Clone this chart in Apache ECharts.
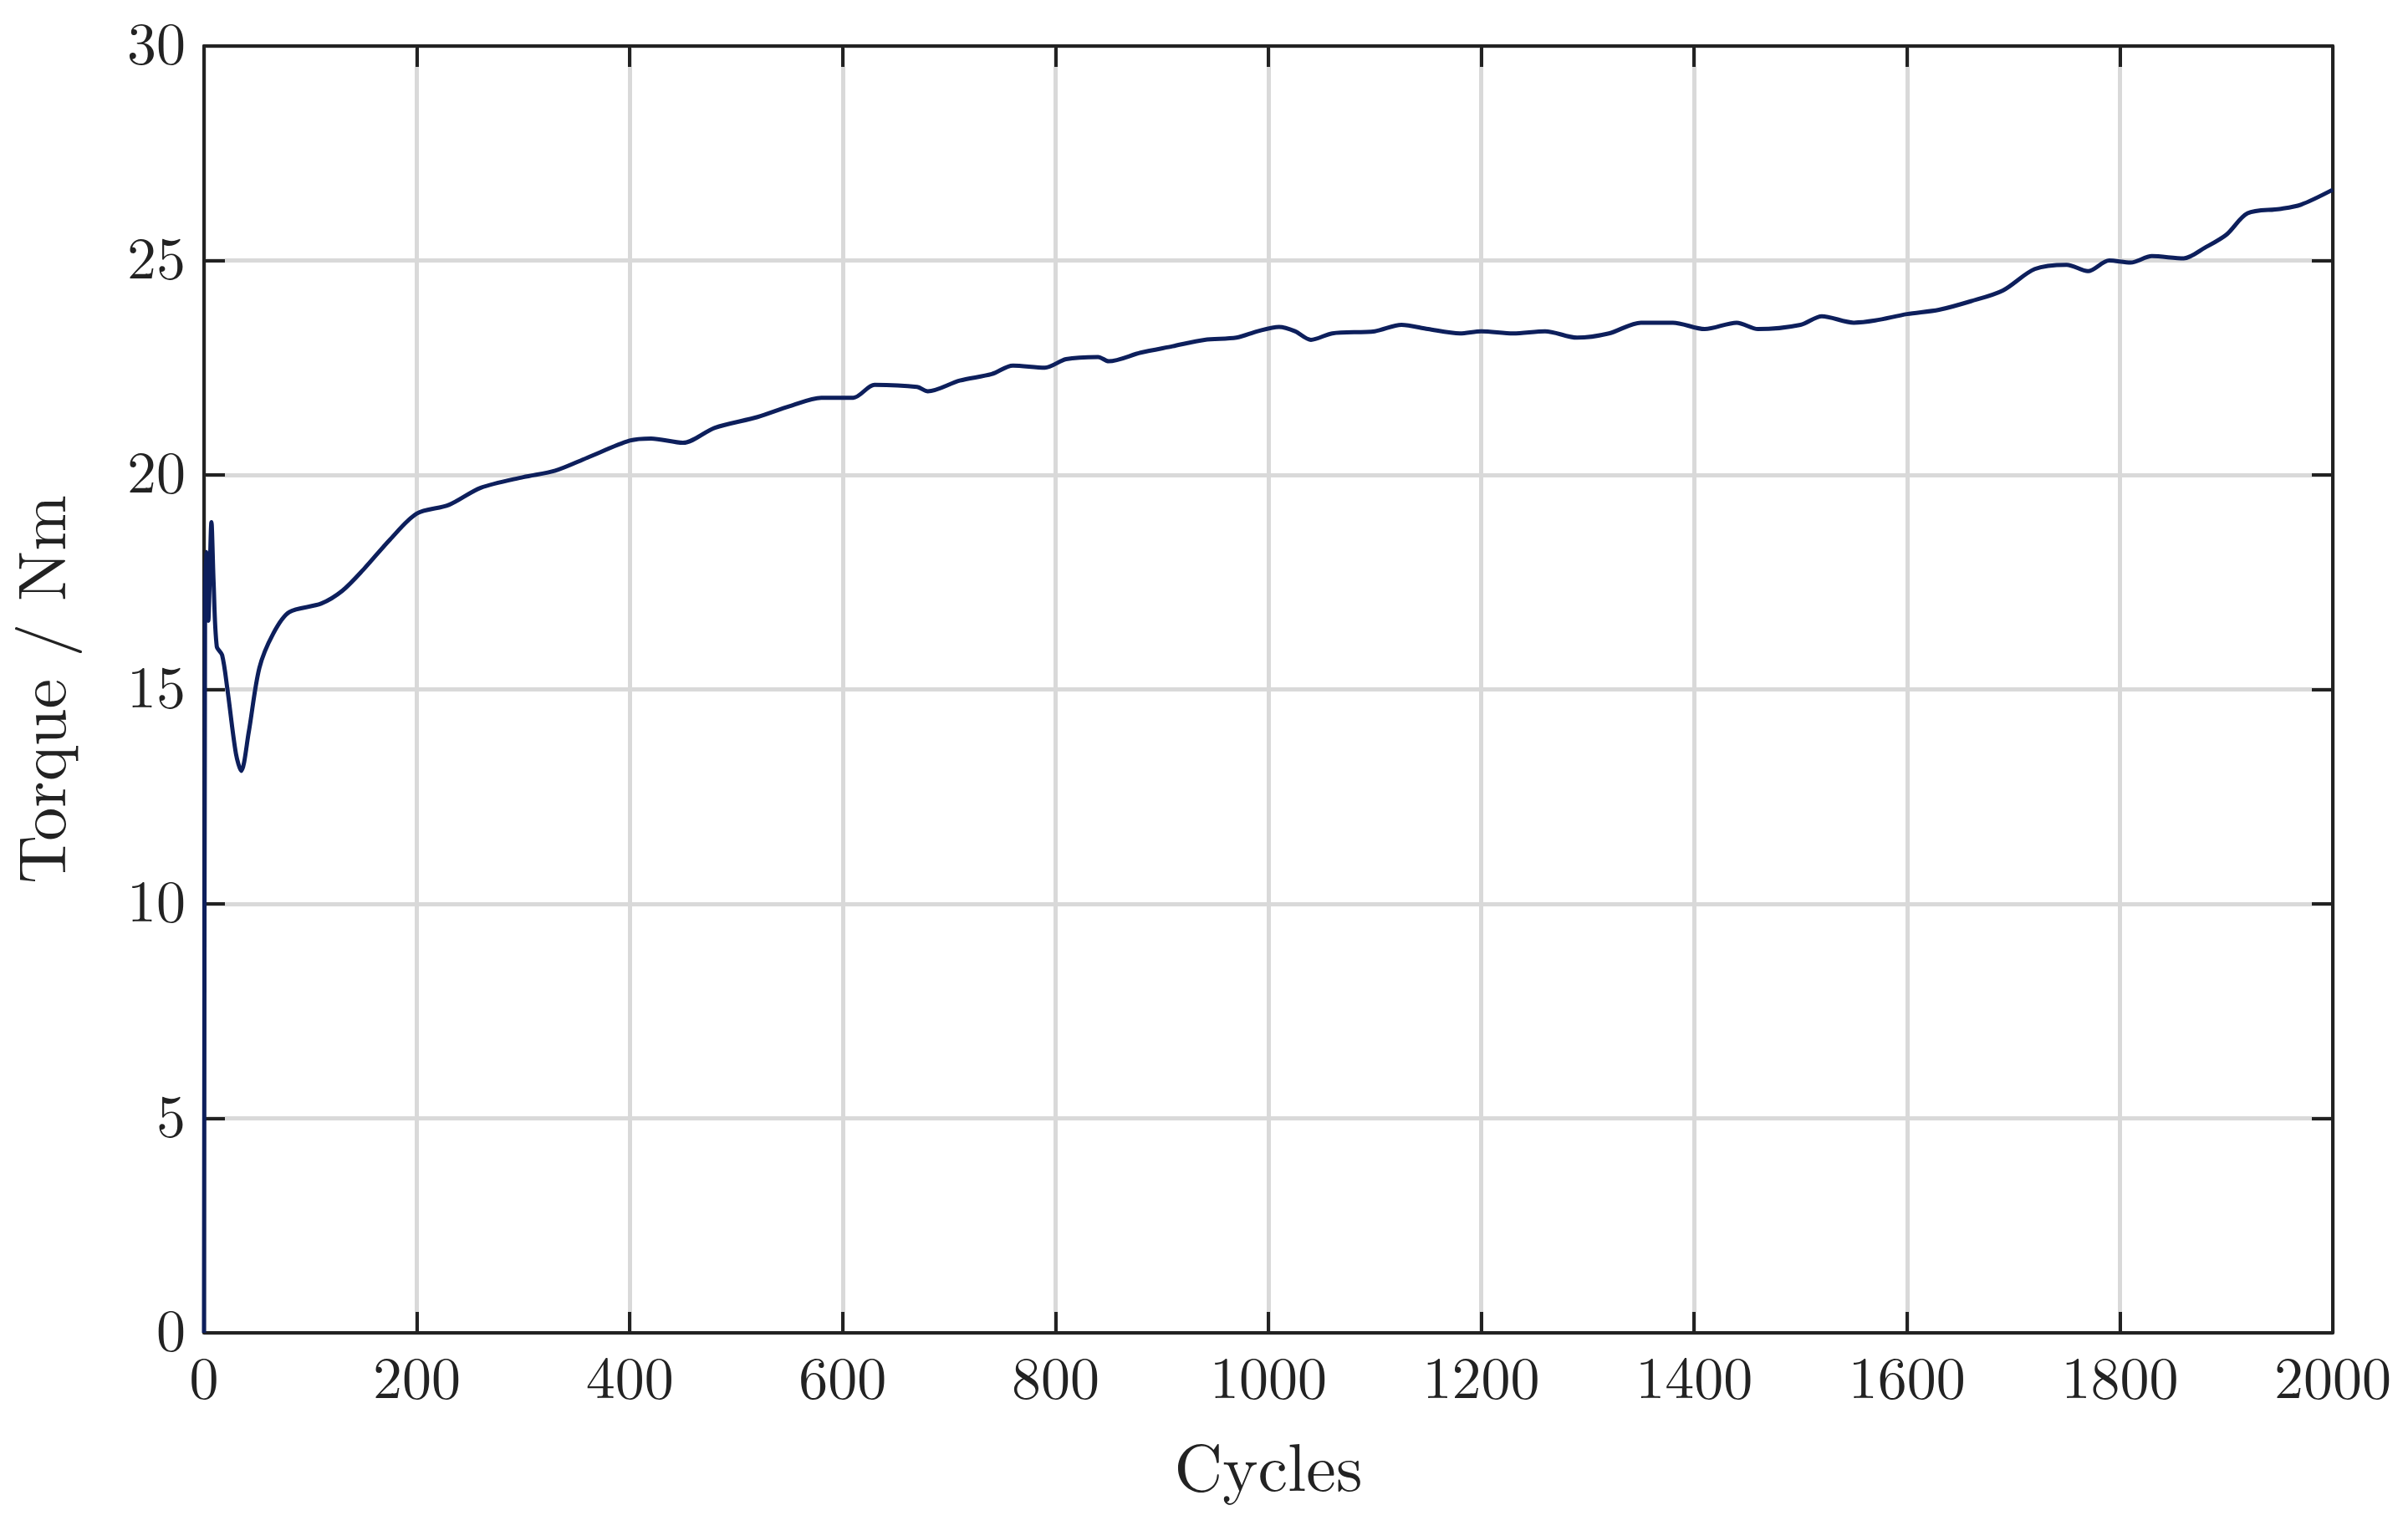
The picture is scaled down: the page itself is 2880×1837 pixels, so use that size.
<!DOCTYPE html>
<html>
<head>
<meta charset="utf-8">
<script src="https://cdn.jsdelivr.net/npm/echarts@6/dist/echarts.min.js"></script>
<style>html,body{margin:0;padding:0;background:#fff}#c{width:2880px;height:1837px}</style>
</head>
<body>
<div id="c"></div>
<script>
// cycles and torque
const cycles = [0, 1, 2, 4, 7, 9, 12, 17, 22, 30, 35, 42, 52, 65, 80, 110, 130, 150, 175, 200, 230, 260, 300, 330, 360, 400, 420, 450, 480, 520, 550, 580, 610, 630, 670, 680, 710, 740, 760, 790, 810, 840, 850, 880, 910, 940, 970, 990, 1010, 1025, 1040, 1060, 1100, 1125, 1150, 1180, 1200, 1230, 1260, 1290, 1320, 1350, 1380, 1410, 1440, 1460, 1500, 1520, 1550, 1570, 1600, 1630, 1660, 1690, 1720, 1750, 1770, 1790, 1810, 1830, 1860, 1880, 1900, 1920, 1950, 1970, 2000];
const torque = [0, 17.0, 18.2, 16.6, 18.9, 17.5, 16.0, 15.8, 15.0, 13.5, 13.1, 14.0, 15.5, 16.3, 16.8, 17.0, 17.3, 17.8, 18.5, 19.1, 19.3, 19.7, 19.95, 20.1, 20.4, 20.8, 20.85, 20.75, 21.1, 21.35, 21.6, 21.8, 21.8, 22.1, 22.05, 21.95, 22.2, 22.35, 22.55, 22.5, 22.7, 22.75, 22.65, 22.85, 23.0, 23.15, 23.2, 23.35, 23.45, 23.35, 23.15, 23.3, 23.35, 23.5, 23.4, 23.3, 23.35, 23.3, 23.35, 23.2, 23.3, 23.55, 23.55, 23.4, 23.55, 23.4, 23.5, 23.7, 23.55, 23.6, 23.75, 23.85, 24.05, 24.3, 24.8, 24.9, 24.75, 25.0, 24.95, 25.1, 25.05, 25.3, 25.6, 26.1, 26.2, 26.3, 26.65];

const font = 'Latin Modern Roman, "DejaVu Serif", serif';
const ink = '#222';
const tick = { show: true, inside: true, length: 25, lineStyle: { color: ink, width: 4 } };
const line = { show: true, onZero: false, lineStyle: { color: ink, width: 4 } };
const label = { fontFamily: font, fontSize: 70, color: ink, margin: 22, formatter: v => String(v) };
const grid = { show: true, lineStyle: { color: '#d9d9d9', width: 5 } };

const chart = echarts.init(document.getElementById('c'));
chart.setOption({
  animation: false,
  grid: { left: 244, right: 90, top: 55, bottom: 243 },
  xAxis: [{
    type: 'value', min: 0, max: 2000, interval: 200, position: 'bottom',
    name: 'Cycles', nameLocation: 'middle', nameGap: 125,
    nameTextStyle: { fontFamily: font, fontSize: 80, color: ink },
    axisLine: line, axisTick: tick, axisLabel: label, splitLine: grid
  }, {
    type: 'value', min: 0, max: 2000, interval: 200, position: 'top',
    axisLine: line, axisTick: tick, axisLabel: { show: false }, splitLine: { show: false }
  }],
  yAxis: [{
    type: 'value', min: 0, max: 30, interval: 5, position: 'left',
    name: 'Torque / Nm', nameLocation: 'middle', nameGap: 150,
    nameTextStyle: { fontFamily: font, fontSize: 80, color: ink },
    axisLine: line, axisTick: tick, axisLabel: label, splitLine: grid
  }, {
    type: 'value', min: 0, max: 30, interval: 5, position: 'right',
    axisLine: line, axisTick: tick, axisLabel: { show: false }, splitLine: { show: false }
  }],
  series: [{
    type: 'line', showSymbol: false, smooth: 0.3,
    data: cycles.map((c, i) => [c, torque[i]]),
    lineStyle: { color: '#0d1f5c', width: 5 }
  }]
});
</script>
</body>
</html>
